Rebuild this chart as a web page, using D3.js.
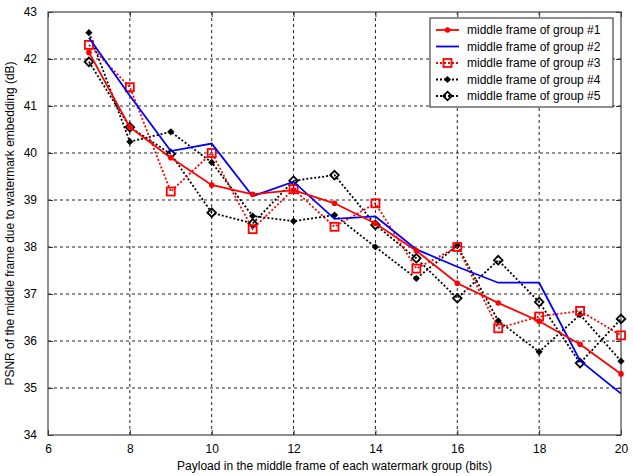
<!DOCTYPE html>
<html>
<head>
<meta charset="utf-8">
<script src="https://cdn.jsdelivr.net/npm/d3@7"></script>
<style>
  body { margin: 0; background: #fff; }
  text { font-family: "Liberation Sans", Arial, sans-serif; font-size: 12px; fill: #000; }
</style>
</head>
<body>
<div id="vis"></div>
<script>
// chart frame
const FRAME_WIDTH = 633;
const FRAME_HEIGHT = 476;
const MARGINS = {left: 48, right: 12, top: 12, bottom: 41};

// data
const PAYLOAD = [7, 8, 9, 10, 11, 12, 13, 14, 15, 16, 17, 18, 19, 20];
const GROUP1 = [42.14, 40.55, 39.9, 39.32, 39.12, 39.21, 38.93, 38.5, 37.92, 37.23, 36.81, 36.42, 35.93, 35.3];
const GROUP2 = [42.45, 41.22, 40.04, 40.2, 39.08, 39.39, 38.6, 38.65, 37.95, 37.58, 37.24, 37.24, 35.58, 34.88];
const GROUP3 = [42.3, 41.4, 39.18, 40.0, 38.38, 39.23, 38.43, 38.93, 37.54, 38.0, 36.27, 36.52, 36.64, 36.12];
const GROUP4 = [42.56, 40.24, 40.45, 39.8, 38.66, 38.55, 38.68, 38.0, 37.33, 38.03, 36.43, 35.77, 36.56, 35.57];
const GROUP5 = [41.94, 40.55, 39.98, 38.73, 38.5, 39.41, 39.53, 38.47, 37.76, 36.91, 37.72, 36.83, 35.53, 36.47];
const X_TICKS = [6, 8, 10, 12, 14, 16, 18, 20];
const Y_TICKS = [34, 35, 36, 37, 38, 39, 40, 41, 42, 43];
const LABELS = ["middle frame of group #1", "middle frame of group #2", "middle frame of group #3",
                "middle frame of group #4", "middle frame of group #5"];

const SERIES = [
  {values: GROUP1, color: "#ff0000", dash: null, marker: "dot"},
  {values: GROUP2, color: "#0000ff", dash: null, marker: "none"},
  {values: GROUP3, color: "#ff0000", dash: "2,2", marker: "square"},
  {values: GROUP4, color: "#000000", dash: "2,2", marker: "filled"},
  {values: GROUP5, color: "#000000", dash: "2,2", marker: "diamond"}
];

const VIS_WIDTH = FRAME_WIDTH - MARGINS.left - MARGINS.right;
const VIS_HEIGHT = FRAME_HEIGHT - MARGINS.top - MARGINS.bottom;

const SVG = d3.select("#vis")
              .append("svg")
                .attr("width", FRAME_WIDTH)
                .attr("height", FRAME_HEIGHT);

const X_SCALE = d3.scaleLinear().domain([6, 20]).range([0, VIS_WIDTH]);
const Y_SCALE = d3.scaleLinear().domain([34, 43]).range([VIS_HEIGHT, 0]);

const PLOT = SVG.append("g")
                .attr("transform", "translate(" + MARGINS.left + "," + MARGINS.top + ")");

// grid lines
PLOT.append("g")
    .selectAll("line")
    .data(X_TICKS.slice(1, -1))
    .enter()
    .append("line")
      .attr("x1", (d) => X_SCALE(d)).attr("x2", (d) => X_SCALE(d))
      .attr("y1", 0).attr("y2", VIS_HEIGHT)
      .attr("stroke", "#222").attr("stroke-dasharray", "3,3");

PLOT.append("g")
    .selectAll("line")
    .data(Y_TICKS.slice(1, -1))
    .enter()
    .append("line")
      .attr("y1", (d) => Y_SCALE(d)).attr("y2", (d) => Y_SCALE(d))
      .attr("x1", 0).attr("x2", VIS_WIDTH)
      .attr("stroke", "#222").attr("stroke-dasharray", "3,3");

// axes (ticks point inward, like matlab)
function styleAxis(g) {
  g.select(".domain").remove();
  g.selectAll(".tick line").attr("stroke", "#333");
  g.selectAll(".tick text").style("font-family", "Liberation Sans, Arial, sans-serif").style("font-size", "12px");
}

PLOT.append("g")
    .attr("transform", "translate(0," + VIS_HEIGHT + ")")
    .call(d3.axisBottom(X_SCALE).tickValues(X_TICKS).tickSize(-5).tickPadding(9).tickFormat(d3.format("d")))
    .call(styleAxis);

PLOT.append("g")
    .call(d3.axisLeft(Y_SCALE).tickValues(Y_TICKS).tickSize(-5).tickPadding(11).tickFormat(d3.format("d")))
    .call(styleAxis);

PLOT.append("g")
    .attr("transform", "translate(" + VIS_WIDTH + ",0)")
    .call(d3.axisRight(Y_SCALE).tickValues(Y_TICKS).tickSize(-5).tickFormat(""))
    .call(styleAxis);

PLOT.append("g")
    .call(d3.axisTop(X_SCALE).tickValues(X_TICKS).tickSize(-5).tickFormat(""))
    .call(styleAxis);

// box
PLOT.append("rect")
    .attr("width", VIS_WIDTH).attr("height", VIS_HEIGHT)
    .attr("fill", "none").attr("stroke", "#444").attr("stroke-width", 1.2);

// markers
function diamondPath(r) {
  return "M0," + (-r) + "L" + r + ",0L0," + r + "L" + (-r) + ",0Z";
}

function drawMarker(g, type, color, x, y) {
  if (type === "dot") {
    g.append("circle").attr("cx", x).attr("cy", y).attr("r", 2.8).attr("fill", color);
  } else if (type === "square") {
    g.append("rect").attr("x", x - 4).attr("y", y - 4).attr("width", 8).attr("height", 8)
      .attr("fill", "none").attr("stroke", color).attr("stroke-width", 1.8);
  } else if (type === "filled") {
    g.append("path").attr("d", diamondPath(3.6))
      .attr("transform", "translate(" + x + "," + y + ")").attr("fill", color);
  } else if (type === "diamond") {
    g.append("path").attr("d", diamondPath(4.3))
      .attr("transform", "translate(" + x + "," + y + ")")
      .attr("fill", "none").attr("stroke", color).attr("stroke-width", 1.8);
  }
}

const LINE = d3.line()
               .x((d, i) => X_SCALE(PAYLOAD[i]))
               .y((d) => Y_SCALE(d));

// draw black dotted series first, then red/blue on top
const ORDER = [4, 3, 2, 1, 0];
ORDER.forEach((k) => {
  const s = SERIES[k];
  const g = PLOT.append("g");
  g.append("path")
    .attr("d", LINE(s.values))
    .attr("fill", "none")
    .attr("stroke", s.color)
    .attr("stroke-width", 1.8)
    .attr("stroke-dasharray", s.dash);
  s.values.forEach((v, i) => drawMarker(g, s.marker, s.color, X_SCALE(PAYLOAD[i]), Y_SCALE(v)));
});

// axis titles
SVG.append("text")
   .attr("x", MARGINS.left + VIS_WIDTH / 2)
   .attr("y", FRAME_HEIGHT - 6)
   .attr("text-anchor", "middle")
   .text("Payload in the middle frame of each watermark group (bits)");

SVG.append("text")
   .attr("transform", "translate(14," + (MARGINS.top + VIS_HEIGHT / 2) + ") rotate(-90)")
   .attr("text-anchor", "middle")
   .text("PSNR of the middle frame due to watermark embedding (dB)");

// legend
const LEGEND = SVG.append("g").attr("transform", "translate(430,18)");
LEGEND.append("rect")
      .attr("width", 183).attr("height", 89)
      .attr("fill", "#fff").attr("stroke", "#444").attr("stroke-width", 1.2);

SERIES.forEach((s, i) => {
  const y = 12 + i * 16.5;
  LEGEND.append("line")
        .attr("x1", 6).attr("x2", 29).attr("y1", y).attr("y2", y)
        .attr("stroke", s.color).attr("stroke-width", 1.8)
        .attr("stroke-dasharray", s.dash);
  drawMarker(LEGEND, s.marker, s.color, 17.5, y);
  LEGEND.append("text")
        .attr("x", 37).attr("y", y + 4)
        .text(LABELS[i]);
});
</script>
</body>
</html>
